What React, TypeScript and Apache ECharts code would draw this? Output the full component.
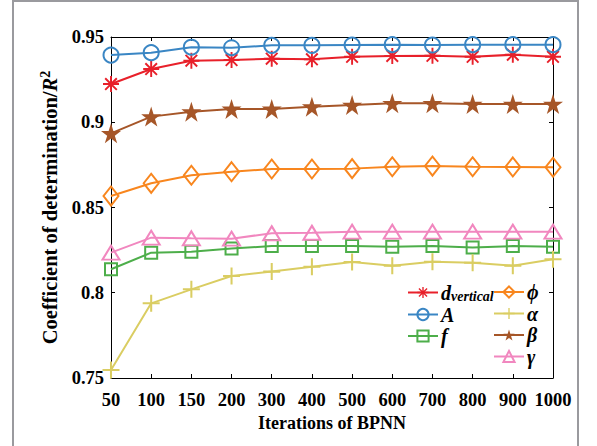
import React, { useEffect, useRef } from "react";
import * as echarts from "echarts";

const categories = ["50", "100", "150", "200", "300", "400", "500", "600", "700", "800", "900", "1000"];
const dVertical = [0.9224, 0.9312, 0.9361, 0.9365, 0.9373, 0.9369, 0.9384, 0.9389, 0.939, 0.9384, 0.9396, 0.9384];
const aValues = [0.9394, 0.9408, 0.944, 0.9437, 0.9451, 0.9451, 0.9453, 0.9455, 0.9453, 0.9455, 0.9455, 0.9455];
const fValues = [0.8138, 0.8235, 0.8241, 0.8259, 0.8274, 0.8274, 0.8274, 0.827, 0.8274, 0.8266, 0.8274, 0.827];
const phiValues = [0.8567, 0.8642, 0.8689, 0.871, 0.8726, 0.8726, 0.8728, 0.8739, 0.8743, 0.8739, 0.8738, 0.8736];
const alphaValues = [0.7547, 0.7938, 0.802, 0.8098, 0.8124, 0.8153, 0.818, 0.8159, 0.8182, 0.8176, 0.8159, 0.8196];
const betaValues = [0.8935, 0.9033, 0.9062, 0.9078, 0.9078, 0.9091, 0.9101, 0.9111, 0.9111, 0.9107, 0.9107, 0.9107];
const gammaValues = [0.8235, 0.8323, 0.8319, 0.8317, 0.8349, 0.8352, 0.8358, 0.8358, 0.8358, 0.8358, 0.8358, 0.8358];
const yTicks = { min: 0.75, max: 0.95, interval: 0.05 };

const FONT = "'Liberation Serif', 'Times New Roman', serif";

const ASTERISK =
  "path://M8.8 0H11.2V20H8.8Z M0 8.8H20V11.2H0Z M1.9 3.6L3.6 1.9L18.1 16.4L16.4 18.1Z M16.4 1.9L18.1 3.6L3.6 18.1L1.9 16.4Z";
const PLUS = "path://M8.8 0H11.2V20H8.8Z M0 8.8H20V11.2H0Z";
const STAR =
  "path://M10 0L12.25 6.91L19.51 6.91L13.63 11.18L15.88 18.09L10 13.82L4.12 18.09L6.37 11.18L0.49 6.91L7.75 6.91Z";

export default function App() {
  const ref = useRef<HTMLDivElement>(null);
  useEffect(() => {
    if (!ref.current) return;
    const chart = echarts.init(ref.current, undefined, { renderer: "svg" });

    const mk = (
      name: string,
      data: number[],
      color: string,
      symbol: string,
      size: number | number[],
      hollow: boolean
    ) => ({
      name,
      type: "line",
      data,
      symbol,
      symbolSize: size,
      showSymbol: true,
      lineStyle: { color, width: 2 },
      itemStyle: hollow
        ? { color: "rgba(255,255,255,0)", borderColor: color, borderWidth: 2 }
        : { color, borderWidth: 0 },
      emphasis: { disabled: true },
      z: 3,
    });

    const legendRich = {
      n: { fontFamily: FONT, fontSize: 20, fontWeight: "bold", fontStyle: "italic", color: "#000", lineHeight: 20 },
      s: { fontFamily: FONT, fontSize: 14, fontWeight: "bold", fontStyle: "italic", color: "#000", lineHeight: 20, padding: [7, 0, 0, 0] },
    };
    const legendFormatter = (name: string) => {
      if (name === "d_vertical") return "{n|d}{s|vertical}";
      return "{n|" + name + "}";
    };

    const option: any = {
      animation: false,
      backgroundColor: "#fff",
      graphic: [
        {
          type: "rect",
          shape: { x: 13, y: 1, width: 565, height: 470 },
          style: { fill: "none", stroke: "#9a9a9e", lineWidth: 2 },
          z: 0,
        },
      ],
      grid: { left: 111, right: 44, top: 37, bottom: 68, containLabel: false },
      legend: [
        {
          data: ["d_vertical", "A", "f"],
          orient: "vertical",
          left: 407,
          top: 282,
          padding: 0,
          itemWidth: 30,
          itemHeight: 14,
          itemGap: 1.5,
          formatter: legendFormatter,
          textStyle: { rich: legendRich, padding: [0, 0, 0, -2] },
          selectedMode: false,
        },
        {
          data: ["ϕ", "α", "β", "γ"],
          orient: "vertical",
          left: 493,
          top: 282,
          padding: 0,
          itemWidth: 30,
          itemHeight: 14,
          itemGap: 1.5,
          formatter: legendFormatter,
          textStyle: { rich: legendRich, padding: [0, 0, 0, -2] },
          selectedMode: false,
        },
      ],
      xAxis: [
        {
          type: "category",
          data: categories,
          boundaryGap: false,
          position: "bottom",
          name: "Iterations of BPNN",
          nameLocation: "middle",
          nameGap: 34,
          nameTextStyle: { fontFamily: FONT, fontSize: 18, fontWeight: "bold", color: "#000" },
          axisLine: { lineStyle: { color: "#000", width: 1 } },
          axisTick: { inside: true, length: 4, lineStyle: { color: "#000" }, alignWithLabel: true },
          axisLabel: { fontFamily: FONT, fontSize: 18.5, fontWeight: "bold", color: "#000", margin: 12, interval: 0 },
          splitLine: { show: false },
        },
        {
          type: "category",
          data: categories,
          boundaryGap: false,
          position: "top",
          axisLine: { lineStyle: { color: "#000", width: 1 } },
          axisTick: { inside: true, length: 4, lineStyle: { color: "#000" } },
          axisLabel: { show: false },
          splitLine: { show: false },
        },
      ],
      yAxis: [
        {
          type: "value",
          min: yTicks.min,
          max: yTicks.max,
          interval: yTicks.interval,
          position: "left",
          name: "{a|Coefficient of determination/}{i|R}{sup|2}",
          nameLocation: "middle",
          nameGap: 38,
          nameTextStyle: {
            rich: {
              a: { fontFamily: FONT, fontSize: 20.5, fontWeight: "bold", color: "#000" },
              i: { fontFamily: FONT, fontSize: 20.5, fontWeight: "bold", fontStyle: "italic", color: "#000" },
              sup: { fontFamily: FONT, fontSize: 14, fontWeight: "bold", color: "#000", padding: [0, 0, 10, 0] },
            },
          },
          axisLine: { show: true, lineStyle: { color: "#000", width: 1 } },
          axisTick: { show: true, inside: true, length: 4, lineStyle: { color: "#000" } },
          axisLabel: { fontFamily: FONT, fontSize: 18.5, fontWeight: "bold", color: "#000", margin: 7 },
          splitLine: { show: false },
        },
        {
          type: "value",
          min: yTicks.min,
          max: yTicks.max,
          interval: yTicks.interval,
          position: "right",
          axisLine: { show: true, lineStyle: { color: "#000", width: 1 } },
          axisTick: { show: true, inside: true, length: 4, lineStyle: { color: "#000" } },
          axisLabel: { show: false },
          splitLine: { show: false },
        },
      ],
      series: [
        mk("d_vertical", dVertical, "#e8202a", ASTERISK, 16, false),
        mk("A", aValues, "#3a86c4", "circle", 15, true),
        mk("f", fValues, "#4dae4a", "rect", 12, true),
        mk("ϕ", phiValues, "#f8861e", "diamond", [15, 19], true),
        mk("α", alphaValues, "#dacd62", PLUS, 17, false),
        mk("β", betaValues, "#a65628", STAR, 20, false),
        mk("γ", gammaValues, "#f187bf", "triangle", [17, 14], true),
      ],
    };
    chart.setOption(option);
    return () => chart.dispose();
  }, []);
  return (
    <div
      ref={ref}
      style={{ position: "fixed", left: 0, top: 0, width: 597, height: 446 }}
    />
  );
}
